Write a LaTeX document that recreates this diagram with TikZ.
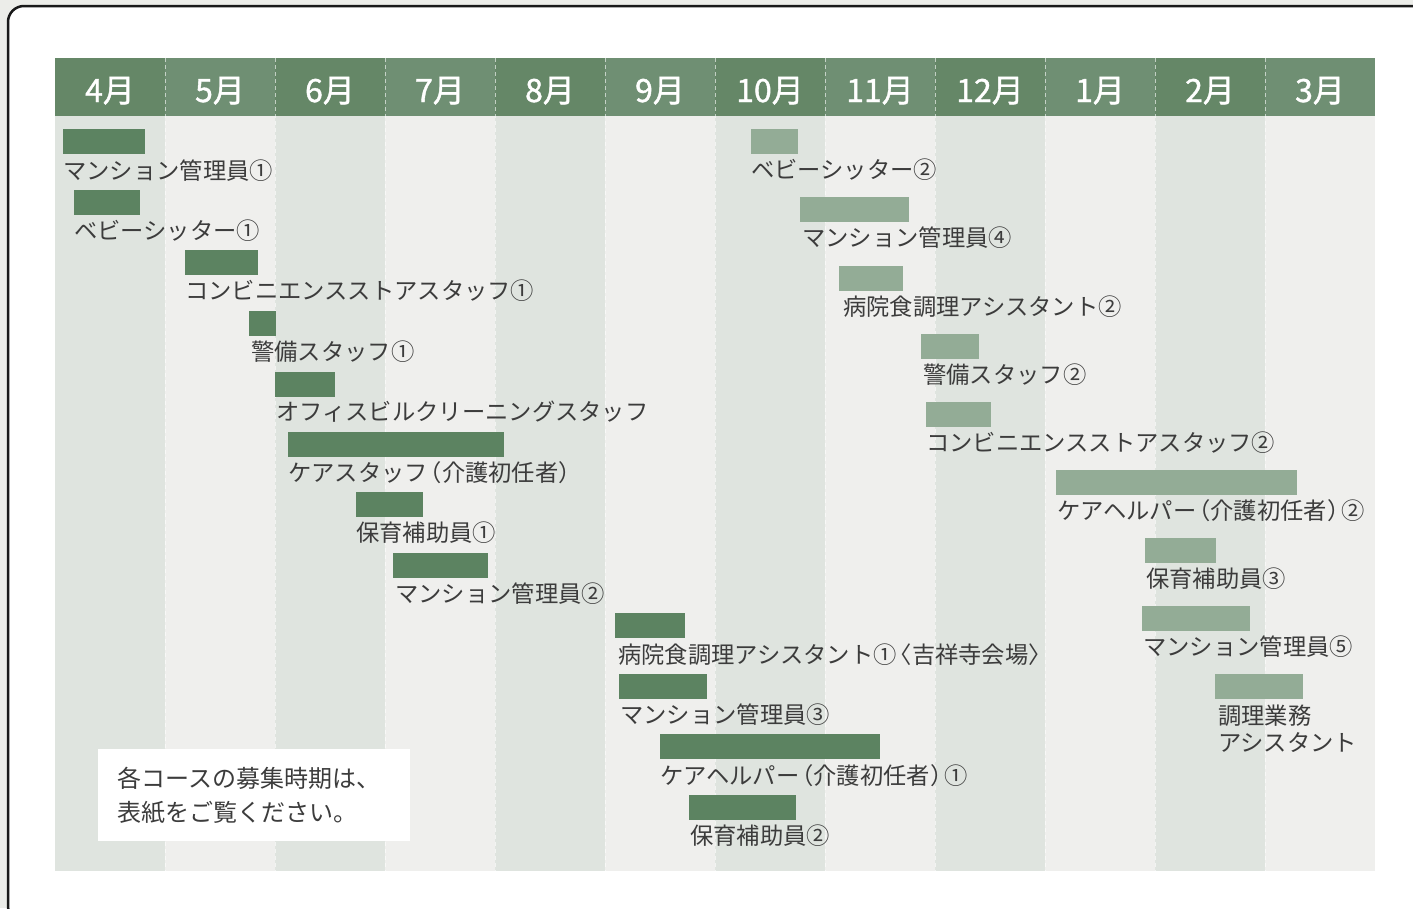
\documentclass[tikz,border=0pt]{standalone}
\usepackage{fontspec}
\setmainfont{Noto Sans CJK JP}
\newfontfamily\hdrfont[FakeBold=1.2]{Noto Sans CJK JP}
\definecolor{pagebg}{HTML}{ECEDE9}
\definecolor{hdrdark}{HTML}{658767}
\definecolor{hdrlight}{HTML}{6F8F73}
\definecolor{coldark}{HTML}{DFE4DF}
\definecolor{collight}{HTML}{EFEFED}
\definecolor{barAcol}{HTML}{5C8361}
\definecolor{barBcol}{HTML}{93AC96}
\definecolor{txtcol}{HTML}{3C3C3C}
\newcommand{\jlp}{\kern-0.4em（}
\newcommand{\jrp}{）\kern-0.4em}
\begin{document}
\begin{tikzpicture}[x=1pt,y=-1pt,
  barA/.style={fill=barAcol, draw=none, inner sep=0pt, minimum height=25pt, anchor=north west},
  barB/.style={fill=barBcol, draw=none, inner sep=0pt, minimum height=25pt, anchor=north west},
  lbl/.style={inner sep=0pt, anchor=base west, text=txtcol, font=\fontsize{23.3}{27}\selectfont, align=left},
  hdr/.style={inner sep=0pt, anchor=base, text=white, font=\hdrfont\fontsize{32}{36}\selectfont},
  sep/.style={white, line width=0.8pt, dash pattern=on 4pt off 3pt},
  notebox/.style={fill=white, draw=none, anchor=north west, align=left, text width=274pt, inner xsep=19pt, inner ysep=0pt, minimum height=92pt, text=txtcol, font=\fontsize{24}{34}\selectfont}
]
\useasboundingbox (0,0) rectangle (1413,908);
\fill[pagebg] (0,0) rectangle (1413,908);
\draw[line width=2.5pt, rounded corners=16pt, fill=white, draw=black!90] (8,6) rectangle (1428,922);

% columns
\foreach \i in {0,...,11}{
  \pgfmathtruncatemacro{\odd}{mod(\i,2)}
  \ifnum\odd=0
    \fill[hdrdark] (55+110*\i,58) rectangle (165+110*\i,116);
    \fill[coldark] (55+110*\i,116) rectangle (165+110*\i,871);
  \else
    \fill[hdrlight] (55+110*\i,58) rectangle (165+110*\i,116);
    \fill[collight] (55+110*\i,116) rectangle (165+110*\i,871);
  \fi
}
\foreach \i in {1,...,12}{
  \draw[sep, opacity=0.6] (55+110*\i,58) -- (55+110*\i,871);
}
% header labels
\foreach \m [count=\i from 0] in {4月,5月,6月,7月,8月,9月,10月,11月,12月,1月,2月,3月}{
  \node[hdr] (h\i) at (110+110*\i,102) {\m};
}

% first-half bars
\node[barA, minimum width=82pt] (b1) at (63,129) {};
\node[lbl] (l1) at (63,179) {マンション管理員①};
\node[barA, minimum width=66pt] (b2) at (74,190) {};
\node[lbl] (l2) at (74,239) {ベビーシッター①};
\node[barA, minimum width=73pt] (b3) at (185,250) {};
\node[lbl] (l3) at (185,299) {コンビニエンスストアスタッフ①};
\node[barA, minimum width=27pt] (b4) at (249,311) {};
\node[lbl] (l4) at (251,360) {警備スタッフ①};
\node[barA, minimum width=60pt] (b5) at (275,372) {};
\node[lbl] (l5) at (276,420) {オフィスビルクリーニングスタッフ};
\node[barA, minimum width=216pt] (b6) at (288,432) {};
\node[lbl] (l6) at (288,481) {ケアスタッフ\jlp 介護初任者\jrp};
\node[barA, minimum width=67pt] (b7) at (356,492) {};
\node[lbl] (l7) at (356,541) {保育補助員①};
\node[barA, minimum width=95pt] (b8) at (393,553) {};
\node[lbl] (l8) at (395,602) {マンション管理員②};
\node[barA, minimum width=70pt] (b9) at (615,613) {};
\node[lbl] (l9) at (618,663) {病院食調理アシスタント①\kern-0.35em〈吉祥寺会場〉};
\node[barA, minimum width=88pt] (b10) at (619,674) {};
\node[lbl] (l10) at (620,723) {マンション管理員③};
\node[barA, minimum width=220pt] (b11) at (660,734) {};
\node[lbl] (l11) at (660,784) {ケアヘルパー\jlp 介護初任者\jrp ①};
\node[barA, minimum width=107pt] (b12) at (689,795) {};
\node[lbl] (l12) at (690,844) {保育補助員②};

% second-half bars
\node[barB, minimum width=47pt] (b13) at (751,129) {};
\node[lbl] (l13) at (751,178) {ベビーシッター②};
\node[barB, minimum width=109pt] (b14) at (800,197) {};
\node[lbl] (l14) at (802,246) {マンション管理員④};
\node[barB, minimum width=64pt] (b15) at (839,266) {};
\node[lbl] (l15) at (843,315) {病院食調理アシスタント②};
\node[barB, minimum width=58pt] (b16) at (921,334) {};
\node[lbl] (l16) at (923,383) {警備スタッフ②};
\node[barB, minimum width=65pt] (b17) at (926,402) {};
\node[lbl] (l17) at (926,451) {コンビニエンスストアスタッフ②};
\node[barB, minimum width=241pt] (b18) at (1056,470) {};
\node[lbl] (l18) at (1057,519) {ケアヘルパー\jlp 介護初任者\jrp ②};
\node[barB, minimum width=71pt] (b19) at (1145,538) {};
\node[lbl] (l19) at (1146,587) {保育補助員③};
\node[barB, minimum width=108pt] (b20) at (1142,606) {};
\node[lbl] (l20) at (1143,655) {マンション管理員⑤};
\node[barB, minimum width=88pt] (b21) at (1215,674) {};
\node[lbl] (l21) at (1218,751) {調理業務\\アシスタント};

% note
\node[notebox] (note) at (98,749) {各コースの募集時期は、\\表紙をご覧ください。};
\end{tikzpicture}
\end{document}
